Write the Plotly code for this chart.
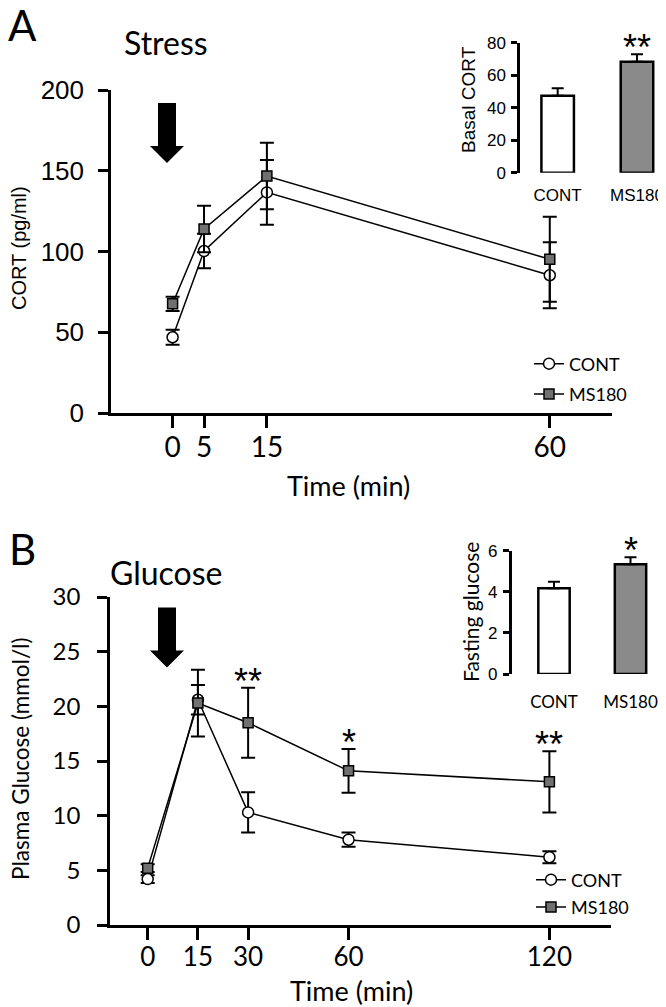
import plotly.graph_objects as go

# page offset (browser body margin) compensation
OX, OY = 8, 8
FW, FH = 666 - OX, 1007 - OY

# ---------------- Panel A : Stress (CORT) ----------------
time_a = [0, 5, 15, 60]
time_a_labels = ["0", "5", "15", "60"]
cort_cont = [46.9, 100.3, 136.6, 85.3]
cort_cont_sem = [4.7, 10.7, 20.0, 20.4]
cort_ms180 = [67.6, 114.0, 146.7, 95.2]
cort_ms180_sem = [4.4, 14.4, 20.6, 26.3]
cort_ticks = [0, 50, 100, 150, 200]

basal_groups = ["CONT", "MS180"]
basal_cort = [47.4, 68.3]
basal_cort_sem = [4.5, 4.6]
basal_sig = ["", "**"]
basal_ticks = [0, 20, 40, 60, 80]

# ---------------- Panel B : Glucose ----------------
time_b = [0, 15, 30, 60, 120]
time_b_labels = ["0", "15", "30", "60", "120"]
glu_cont = [4.2, 20.6, 10.3, 7.8, 6.2]
glu_cont_sem = [0.35, 1.35, 1.85, 0.65, 0.55]
glu_ms180 = [5.2, 20.3, 18.5, 14.1, 13.1]
glu_ms180_sem = [0.35, 3.05, 3.2, 2.0, 2.8]
glu_sig = ["", "", "**", "*", "**"]
glu_ticks = [0, 5, 10, 15, 20, 25, 30]

fasting_groups = ["CONT", "MS180"]
fasting_glu = [4.17, 5.34]
fasting_glu_sem = [0.32, 0.34]
fasting_sig = ["", "*"]
fasting_ticks = [0, 2, 4, 6]

bar_colors = ["white", "#8a8a8a"]
SQUARE_FILL = "#707070"
LATO = "Lato"
ARIAL = "Liberation Sans, Arial"


def px(x):
    return (x - OX) / FW


def py(y):
    return 1 - (y - OY) / FH


fig = go.Figure()


def add_main(x, cont, cont_e, ms, ms_e, xa, ya, leg):
    fig.add_trace(go.Scatter(
        x=x, y=cont, name="CONT", mode="lines+markers",
        xaxis=xa, yaxis=ya, legend=leg, legendgroup=leg + "c",
        line=dict(color="black", width=1.5),
        marker=dict(symbol="circle", size=11, color="white",
                    line=dict(color="black", width=1.5)),
        error_y=dict(type="data", array=cont_e, color="black",
                     thickness=2, width=7),
        cliponaxis=False))
    fig.add_trace(go.Scatter(
        x=x, y=ms, name="MS180", mode="lines+markers",
        xaxis=xa, yaxis=ya, legend=leg, legendgroup=leg + "m",
        line=dict(color="black", width=1.5),
        marker=dict(symbol="square", size=10, color=SQUARE_FILL,
                    line=dict(color="black", width=1.5)),
        error_y=dict(type="data", array=ms_e, color="black",
                     thickness=2, width=7),
        cliponaxis=False))


def add_inset(vals, errs, xa, ya):
    fig.add_trace(go.Bar(
        x=list(range(len(vals))), y=vals, xaxis=xa, yaxis=ya,
        showlegend=False, width=0.41,
        marker=dict(color=bar_colors, line=dict(color="black", width=2.5)),
        error_y=dict(type="data", symmetric=False, array=errs,
                     arrayminus=[0] * len(errs), color="black",
                     thickness=2, width=6)))


add_main(time_a, cort_cont, cort_cont_sem, cort_ms180, cort_ms180_sem, "x", "y", "legend")
add_inset(basal_cort, basal_cort_sem, "x2", "y2")
add_main(time_b, glu_cont, glu_cont_sem, glu_ms180, glu_ms180_sem, "x3", "y3", "legend2")
add_inset(fasting_glu, fasting_glu_sem, "x4", "y4")

axline = dict(showline=True, linecolor="black", showgrid=False,
              zeroline=False, ticks="outside", tickcolor="black",
              automargin=False)

fig.update_layout(
    width=FW, height=FH,
    margin=dict(l=0, r=0, t=0, b=0, pad=0, autoexpand=False),
    paper_bgcolor="white", plot_bgcolor="rgba(0,0,0,0)",
    barmode="overlay",
    # Panel A main
    xaxis=dict(**axline, domain=[px(111), px(612)], range=[-9.8, 69.9],
               anchor="y", tickvals=time_a, ticktext=time_a_labels,
               ticklen=12, tickwidth=2.5, linewidth=2.5,
               ticklabelstandoff=-4,
               tickfont=dict(family=LATO, size=28, color="black")),
    yaxis=dict(**axline, domain=[py(413), py(90)], range=[0, 200],
               anchor="x", tickvals=cort_ticks, ticklen=10, tickwidth=2.5,
               linewidth=2.5, ticklabelstandoff=9,
               tickfont=dict(family=ARIAL, size=26, color="black")),
    # Panel A inset
    xaxis2=dict(showline=False, showgrid=False, zeroline=False,
                automargin=False,
                domain=[px(520), px(666)], range=[-0.475, 1.366],
                anchor="y2", tickvals=[0, 1], ticktext=basal_groups,
                ticks="", ticklabelstandoff=10,
                tickfont=dict(family=ARIAL, size=17, color="black")),
    yaxis2=dict(**axline, domain=[py(172.7), py(42.7)], range=[0, 80],
                anchor="x2", tickvals=basal_ticks, ticklen=6, tickwidth=2.5,
                linewidth=2.5, ticklabelstandoff=2,
                tickfont=dict(family=ARIAL, size=17, color="black")),
    # Panel B main
    xaxis3=dict(**axline, domain=[px(110), px(611)], range=[-11.26, 138.4],
                anchor="y3", tickvals=time_b, ticktext=time_b_labels,
                ticklen=12, tickwidth=2.5, linewidth=2.5,
                ticklabelstandoff=-5,
                tickfont=dict(family=LATO, size=26, color="black")),
    yaxis3=dict(**axline, domain=[py(925), py(597)], range=[0, 30],
                anchor="x3", tickvals=glu_ticks, ticklen=10, tickwidth=2.5,
                linewidth=2.5, ticklabelstandoff=12,
                tickfont=dict(family=LATO, size=24, color="black")),
    # Panel B inset
    xaxis4=dict(showline=False, showgrid=False, zeroline=False,
                automargin=False,
                domain=[px(511.7), px(666)], range=[-0.553, 1.464],
                anchor="y4", tickvals=[0, 1], ticktext=fasting_groups,
                ticks="", ticklabelstandoff=16,
                tickfont=dict(family=LATO, size=17, color="black")),
    yaxis4=dict(**axline, domain=[py(674), py(550.7)], range=[0, 6],
                anchor="x4", tickvals=fasting_ticks, ticklen=6, tickwidth=2.5,
                linewidth=2.5, ticklabelstandoff=2,
                tickfont=dict(family=ARIAL, size=17, color="black")),
    legend=dict(x=px(529), y=py(379), xanchor="left", yanchor="middle",
                bgcolor="rgba(0,0,0,0)", traceorder="grouped",
                tracegroupgap=4,
                font=dict(family=LATO, size=18, color="black")),
    legend2=dict(x=px(531), y=py(893.5), xanchor="left", yanchor="middle",
                 bgcolor="rgba(0,0,0,0)", traceorder="grouped",
                 tracegroupgap=1,
                 font=dict(family=LATO, size=18, color="black")),
)

ann = []


def label(text, x, y, size, family=LATO, angle=0):
    ann.append(dict(text=text, x=px(x), y=py(y), xref="paper", yref="paper",
                    xanchor="center", yanchor="middle", showarrow=False,
                    textangle=angle,
                    font=dict(family=family, size=size, color="black")))


label("A", 22, 25, 42)
label("B", 22, 549, 42)
label("Stress", 166, 43, 32)
label("Glucose", 166, 572, 32)
label("Time (min)", 349, 485, 27)
label("Time (min)", 351, 990, 27)
label("CORT (pg/ml)", 19, 248, 20, ARIAL, -90)
label("Plasma Glucose (mmol/l)", 20, 759, 22.5, LATO, -90)
label("Basal CORT", 468, 100, 19, ARIAL, -90)
label("Fasting glucose", 470, 612, 21, LATO, -90)

# significance stars
STAR = dict(family=ARIAL, size=36, color="black")
for t, v, e, s in zip(time_b, glu_ms180, glu_ms180_sem, glu_sig):
    if s:
        ann.append(dict(text=s, x=t, y=v + e, xref="x3", yref="y3",
                        xanchor="center", yanchor="bottom", yshift=-16,
                        showarrow=False, font=STAR))
for i, (v, e, s) in enumerate(zip(basal_cort, basal_cort_sem, basal_sig)):
    if s:
        ann.append(dict(text=s, x=i, y=v + e, xref="x2", yref="y2",
                        xanchor="center", yanchor="bottom", yshift=-16,
                        showarrow=False, font=STAR))
for i, (v, e, s) in enumerate(zip(fasting_glu, fasting_glu_sem, fasting_sig)):
    if s:
        ann.append(dict(text=s, x=i, y=v + e, xref="x4", yref="y4",
                        xanchor="center", yanchor="bottom", yshift=-16,
                        showarrow=False, font=STAR))

fig.update_layout(annotations=ann)


def arrow(top):
    # block arrow pointing down (stimulus onset marker)
    pts = [(158, top), (176, top), (176, top + 43), (184, top + 43),
           (167, top + 60), (150, top + 43), (158, top + 43)]
    d = "M " + " L ".join(f"{px(a):.5f},{py(b):.5f}" for a, b in pts) + " Z"
    return dict(type="path", path=d, xref="paper", yref="paper",
                fillcolor="black", line=dict(color="black", width=0))


fig.update_layout(shapes=[arrow(103), arrow(607.5)])

fig.write_html("out.html")
